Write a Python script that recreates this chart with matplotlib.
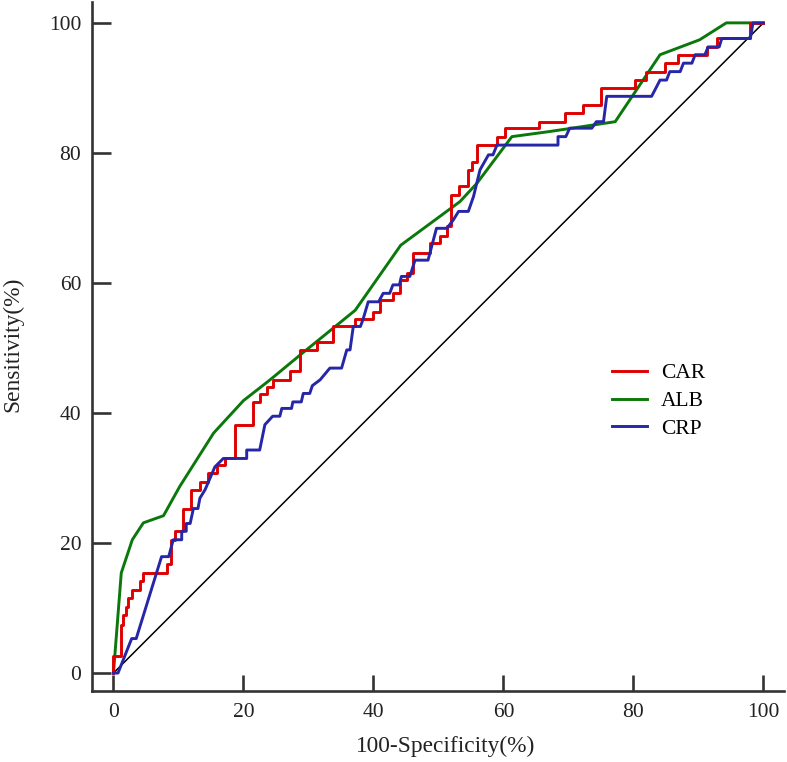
import matplotlib
matplotlib.use("Agg")
import matplotlib.pyplot as plt

plt.rcParams['font.family'] = ['Liberation Serif', 'DejaVu Serif']

# ---- data ----
# CAR: step curve, x where sensitivity jumps and the new sensitivity
car_x = [0, 0, 1.1, 1.5, 1.9, 2.2, 2.8, 4.1, 4.6, 8.2,
         8.9, 9.5, 10.7, 12.0, 13.3, 14.6, 15.9, 17.2, 18.7, 21.5,
         22.5, 23.6, 24.6, 27.2, 28.7, 31.3, 33.8, 37.2, 40.0, 41.0,
         43.0, 44.1, 45.1, 46.1, 48.7, 50.2, 51.3, 52.0, 53.1, 54.6,
         55.1, 56.0, 59.0, 60.3, 65.4, 69.4, 72.3, 75.0, 80.2, 82.0,
         84.8, 86.9, 91.3, 92.8, 98.0, 100]
car_y = [0, 2.6, 7.4, 8.9, 10.2, 11.5, 12.8, 14.1, 15.4, 16.7,
         20.5, 21.8, 25.3, 28.2, 29.4, 30.8, 32.0, 33.0, 38.2, 41.7,
         42.9, 44.0, 45.1, 46.4, 49.7, 50.9, 53.3, 54.4, 55.6, 57.4,
         58.4, 60.5, 61.5, 64.6, 66.1, 67.2, 68.7, 73.5, 74.9, 77.4,
         78.6, 81.2, 82.5, 83.8, 84.8, 86.1, 87.4, 90.0, 91.2, 92.5,
         93.8, 95.1, 96.3, 97.6, 100, 100]

alb_x = [0, 1.2, 2.9, 4.6, 7.7, 10.2, 15.4, 20.0, 24.1, 28.7,
         37.2, 44.2, 53.3, 55.9, 61.3, 67.2, 77.2, 84.1, 90.2, 94.3, 100]
alb_y = [0, 15.4, 20.5, 23.1, 24.2, 28.7, 36.9, 41.9, 45.1, 48.9,
         55.8, 65.8, 72.5, 75.3, 82.5, 83.3, 84.8, 95.1, 97.4, 100, 100]

crp_x = [0, 0.7, 2.8, 3.5, 7.4, 8.5, 9.2, 10.5, 10.5, 11.2,
         11.2, 11.8, 12.3, 13.0, 13.3, 14.1, 15.6, 16.9, 20.5, 20.5,
         22.5, 23.3, 24.5, 25.6, 25.9, 27.4, 27.6, 28.9, 29.2, 30.2,
         30.6, 31.8, 33.3, 35.1, 35.9, 36.4, 36.9, 38.0, 38.4, 39.2,
         40.8, 41.5, 42.5, 43.0, 44.0, 44.3, 45.6, 46.4, 48.4, 49.7,
         51.3, 52.3, 53.1, 54.6, 55.4, 56.4, 57.7, 58.4, 59.0, 68.4,
         68.4, 69.6, 70.2, 73.6, 74.3, 75.4, 75.9, 82.8, 84.1, 85.1,
         85.6, 87.2, 87.7, 89.0, 89.5, 91.0, 91.5, 93.2, 93.6, 98.0,
         98.4, 100]
crp_y = [0, 0, 5.3, 5.3, 17.9, 17.9, 20.5, 20.5, 21.8, 21.8,
         23.0, 23.0, 25.3, 25.3, 26.9, 28.2, 31.7, 33.0, 33.0, 34.3,
         34.3, 38.2, 39.5, 39.5, 40.7, 40.7, 41.7, 41.7, 43.0, 43.0,
         44.2, 45.1, 46.9, 46.9, 49.7, 49.7, 53.3, 53.3, 54.4, 57.1,
         57.1, 58.4, 58.4, 59.7, 59.7, 61.0, 61.0, 63.5, 63.5, 68.4,
         68.4, 69.7, 71.0, 71.0, 73.3, 77.4, 79.7, 79.7, 81.2, 81.2,
         82.5, 82.5, 83.8, 83.8, 84.8, 84.8, 88.7, 88.7, 91.2, 91.2,
         92.5, 92.5, 93.8, 93.8, 95.1, 95.1, 96.3, 96.3, 97.6, 97.6,
         100, 100]

ref_x = [0, 100]
ref_y = [0, 100]

labels = ['CAR', 'ALB', 'CRP']
ticks = [0, 20, 40, 60, 80, 100]

# ---- figure ----
fig = plt.figure(figsize=(7.87, 7.62), dpi=100)
ax = fig.add_axes([0.1175, 0.0938, 0.8785, 0.9035])

ax.plot(ref_x, ref_y, color='black', lw=1.1, zorder=1)
ax.plot(car_x, car_y, color='#e00000', lw=2.1, label=labels[0], zorder=3,
        drawstyle='steps-post')
ax.plot(alb_x, alb_y, color='#0a780a', lw=2.1, label=labels[1], zorder=2)
ax.plot(crp_x, crp_y, color='#2626a8', lw=2.1, label=labels[2], zorder=4)

ax.set_xlim(-3.23, 103.15)
ax.set_ylim(-2.69, 103.2)
ax.set_xticks(ticks)
ax.set_yticks(ticks)

for s in ['top', 'right']:
    ax.spines[s].set_visible(False)
for s in ['left', 'bottom']:
    ax.spines[s].set_linewidth(1.9)
    ax.spines[s].set_color('#333333')

ax.tick_params(axis='x', direction='in', length=11.5, width=1.9, color='#333333',
               labelsize=15.5, pad=9, labelcolor='#222222')
ax.tick_params(axis='y', direction='in', length=13.7, width=1.9, color='#333333',
               labelsize=15.5, pad=8, labelcolor='#222222')

ax.set_xlabel('100-Specificity(%)', fontsize=16.8, color='#222222', va='center', ha='center')
ax.set_ylabel('Sensitivity(%)', fontsize=16.8, color='#222222', va='center', ha='center')
ax.xaxis.set_label_coords(0.5105, -0.0806)
ax.yaxis.set_label_coords(-0.115, 0.503)

leg = ax.legend(loc='center left', bbox_to_anchor=(0.751, 0.4205), frameon=False,
                fontsize=15.5, handlelength=1.65, handletextpad=0.65, labelspacing=0.36,
                borderpad=0, borderaxespad=0)

fig.savefig('out.png', dpi=100)
